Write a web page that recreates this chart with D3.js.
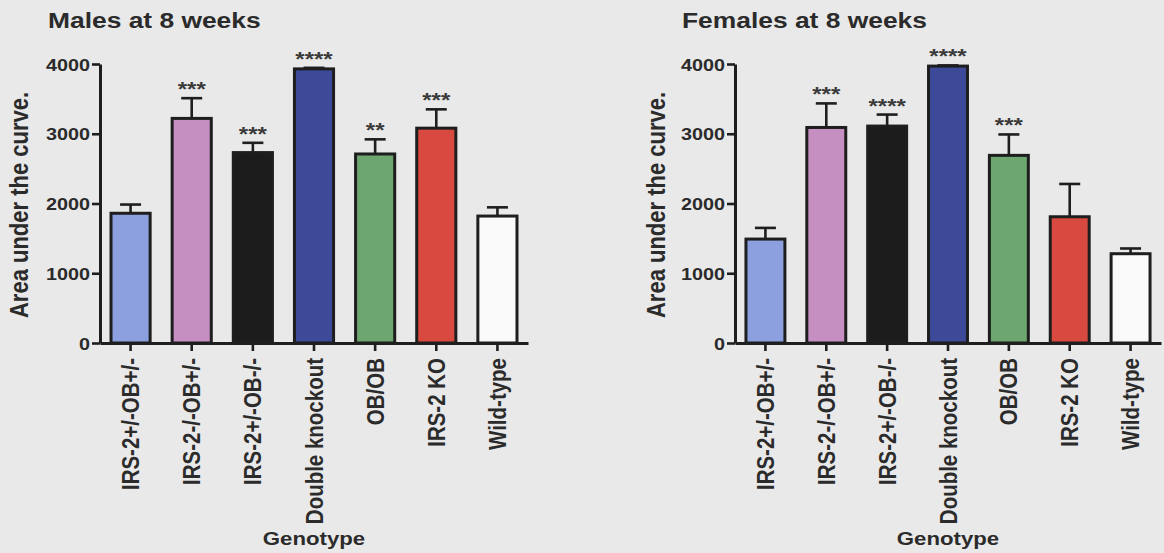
<!DOCTYPE html>
<html>
<head>
<meta charset="utf-8">
<script src="https://cdn.jsdelivr.net/npm/d3@7"></script>
<style>
  html, body { margin: 0; padding: 0; background: #e9e9e9; }
  svg { display: block; }
  text { font-family: "Liberation Sans", Arial, sans-serif; font-weight: bold; fill: #2b2b2b; }
</style>
</head>
<body>
<svg id="chart" width="1164" height="553"></svg>
<script>
const categories = ["IRS-2+/-OB+/-", "IRS-2-/-OB+/-", "IRS-2+/-OB-/-", "Double knockout", "OB/OB", "IRS-2 KO", "Wild-type"];
const barColors = ["#8c9fdf", "#c58fc2", "#1c1c1c", "#3d4a98", "#6ea670", "#d84a3f", "#fafafa"];
const maleMean = [1860, 3220, 2730, 3930, 2710, 3080, 1820];
const maleSem = [125, 290, 140, 15, 210, 270, 125];
const maleSig = ["", "***", "***", "****", "**", "***", ""];
const femaleMean = [1490, 3090, 3110, 3970, 2690, 1810, 1280];
const femaleSem = [160, 345, 165, 10, 300, 470, 75];
const femaleSig = ["", "***", "****", "****", "***", "", ""];
const yTicks = [0, 1000, 2000, 3000, 4000];
const titles = ["Males at 8 weeks", "Females at 8 weeks"];
const yLabel = "Area under the curve.";
const xLabel = "Genotype";

const SX = 1.2; // horizontal stretch of the scanned figure
const svg = d3.select("#chart");
svg.append("rect").attr("width", 1164).attr("height", 553).attr("fill", "#e9e9e9");

const panels = [
  { title: titles[0], mean: maleMean, sem: maleSem, sig: maleSig, left: 100, right: 528, titleX: 48, yLabX: 28 },
  { title: titles[1], mean: femaleMean, sem: femaleSem, sig: femaleSig, left: 735, right: 1161, titleX: 682, yLabX: 665 }
];
const plotTop = 64, plotBottom = 343;

panels.forEach(p => {
  const g = svg.append("g");
  const x = d3.scaleBand().domain(categories).range([p.left, p.right]).paddingInner(0.36).paddingOuter(0.18);
  const y = d3.scaleLinear().domain([0, 4000]).range([plotBottom, plotTop]);
  const data = categories.map((c, i) => ({ c, v: p.mean[i], e: p.sem[i], s: p.sig[i], col: barColors[i] }));

  // title
  g.append("text")
    .attr("transform", `translate(${p.titleX},27.5) scale(${SX},1)`)
    .style("font-size", "22px")
    .text(p.title);

  // bars
  g.selectAll("rect.bar").data(data).join("rect").attr("class", "bar")
    .attr("x", d => x(d.c))
    .attr("y", d => y(d.v))
    .attr("width", x.bandwidth())
    .attr("height", d => y(0) - y(d.v))
    .attr("fill", d => d.col)
    .attr("stroke", "#1e1e1e")
    .attr("stroke-width", 3);

  // error bars (upper)
  const eb = g.selectAll("g.err").data(data).join("g").attr("class", "err");
  eb.append("line")
    .attr("x1", d => x(d.c) + x.bandwidth() / 2).attr("x2", d => x(d.c) + x.bandwidth() / 2)
    .attr("y1", d => y(d.v)).attr("y2", d => y(d.v + d.e))
    .attr("stroke", "#1e1e1e").attr("stroke-width", 2.6);
  eb.append("line")
    .attr("x1", d => x(d.c) + x.bandwidth() / 2 - 10.5).attr("x2", d => x(d.c) + x.bandwidth() / 2 + 10.5)
    .attr("y1", d => y(d.v + d.e)).attr("y2", d => y(d.v + d.e))
    .attr("stroke", "#1e1e1e").attr("stroke-width", 2.6);

  // significance stars
  g.selectAll("text.sig").data(data.filter(d => d.s)).join("text").attr("class", "sig")
    .attr("transform", d => `translate(${x(d.c) + x.bandwidth() / 2},${y(d.v + d.e) - 2}) scale(${SX},1)`)
    .attr("text-anchor", "middle")
    .style("font-size", "20px")
    .style("fill", "#3a3a3a")
    .text(d => d.s);

  // y axis
  const ya = g.append("g").attr("transform", `translate(${p.left},0)`)
    .call(d3.axisLeft(y).tickValues(yTicks).tickFormat(d3.format("d")).tickSize(8).tickPadding(2).tickSizeOuter(0));
  ya.select(".domain").attr("stroke", "#1e1e1e").attr("stroke-width", 3);
  ya.selectAll(".tick line").attr("stroke", "#1e1e1e").attr("stroke-width", 2.6);
  ya.selectAll(".tick text")
    .attr("x", null).attr("dy", null)
    .attr("transform", `translate(-10,6) scale(${SX},1)`)
    .attr("text-anchor", "end")
    .style("font-size", "16.5px")
    .style("font-family", "'Liberation Sans', Arial, sans-serif")
    .style("font-weight", "bold")
    .attr("fill", "#2b2b2b");

  // x axis
  const xa = g.append("g").attr("transform", `translate(0,${plotBottom})`)
    .call(d3.axisBottom(x).tickSize(8).tickSizeOuter(0));
  xa.select(".domain").attr("stroke", "#1e1e1e").attr("stroke-width", 3);
  xa.selectAll(".tick line").attr("stroke", "#1e1e1e").attr("stroke-width", 2.6);
  xa.selectAll(".tick text")
    .attr("y", null).attr("dy", null)
    .attr("transform", `translate(8.5,15) scale(${SX},1) rotate(-90)`)
    .attr("text-anchor", "end")
    .style("font-size", "20.5px")
    .style("font-family", "'Liberation Sans', Arial, sans-serif")
    .style("font-weight", "bold")
    .attr("fill", "#2b2b2b");

  // axis labels
  g.append("text")
    .attr("transform", `translate(${p.yLabX},205) scale(${SX},1) rotate(-90)`)
    .attr("text-anchor", "middle")
    .style("font-size", "22px")
    .text(yLabel);
  g.append("text")
    .attr("transform", `translate(${(p.left + p.right) / 2},545) scale(${SX},1)`)
    .attr("text-anchor", "middle")
    .style("font-size", "18.5px")
    .text(xLabel);
});
</script>
</body>
</html>
